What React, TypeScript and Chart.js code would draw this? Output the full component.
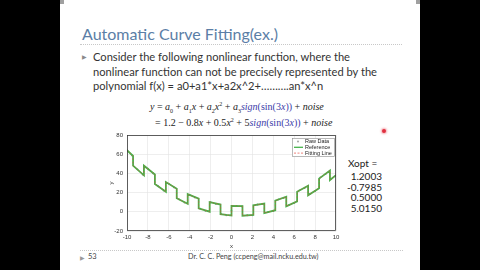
import React, { useEffect, useRef } from "react";
import { Chart, registerables } from "chart.js";
Chart.register(...registerables);

// ---- data ----
const refX = [-10, -9.42, -9.42, -8.38, -8.38, -7.33, -7.33, -6.28, -6.28, -5.24, -5.24, -4.19, -4.19, -3.14, -3.14, -2.09, -2.09, -1.05, -1.05, -0.5, 0, 0, 1.05, 1.05, 2.09, 2.09, 3.14, 3.14, 4.19, 4.19, 5.24, 5.24, 6.28, 6.28, 7.33, 7.33, 8.38, 8.38, 9.42, 9.42, 10];
const refY = [64.2, 58.15, 48.15, 38.0, 48.0, 38.93, 28.93, 20.97, 30.97, 24.1, 14.1, 8.32, 18.32, 13.65, 3.65, 0.07, 10.07, 7.59, -2.41, -3.28, -3.8, 6.2, 5.91, -4.09, -3.28, 6.72, 8.62, -1.38, 1.62, 11.62, 15.72, 5.72, 10.91, 20.91, 27.21, 17.21, 24.6, 34.6, 43.07, 33.07, 38.2];
const fitX = [-10, -9.42, -9.42, -8.38, -8.38, -7.33, -7.33, -6.28, -6.28, -5.24, -5.24, -4.19, -4.19, -3.14, -3.14, -2.09, -2.09, -1.05, -1.05, -0.5, 0, 0, 1.05, 1.05, 2.09, 2.09, 3.14, 3.14, 4.19, 4.19, 5.24, 5.24, 6.28, 6.28, 7.33, 7.33, 8.38, 8.38, 9.42, 9.42, 10];
const fitY = [64.2, 58.2, 48.1, 38.0, 48.0, 38.9, 28.9, 21.0, 31.0, 24.1, 14.1, 8.3, 18.3, 13.6, 3.6, 0.1, 10.1, 7.6, -2.4, -3.3, -3.8, 6.2, 5.9, -4.1, -3.3, 6.7, 8.6, -1.4, 1.6, 11.6, 15.7, 5.7, 10.9, 20.9, 27.2, 17.2, 24.6, 34.6, 43.1, 33.1, 38.2];
const rawX = [-10, -9.5, -9, -8.5, -8, -7.5, -7, -6.5, -6, -5.5, -5, -4.5, -4, -3.5, -3, -2.5, -2, -1.5, -1, -0.5, 0, 0.5, 1, 1.5, 2, 2.5, 3, 3.5, 4, 4.5, 5, 5.5, 6, 6.5, 7, 7.5, 8, 8.5, 9, 9.5, 10];
const rawY = [64.5, 58.6, 44.2, 38.8, 44.9, 40.0, 26.6, 22.2, 29.3, 25.4, 13.0, 9.6, 17.7, 14.8, 3.4, 1.0, 10.1, 8.2, -2.2, -3.6, 1.2, 6.2, 5.6, -3.6, -3.7, 7.6, 8.0, -0.2, 0.7, 13.0, 14.4, 7.2, 9.1, 22.4, 24.8, 18.6, 21.5, 35.8, 39.2, 34.0, 37.9];
const xTicks = [-10, -8, -6, -4, -2, 0, 2, 4, 6, 8, 10];
const yTicks = [-20, 0, 20, 40, 60, 80];
const seriesLabels = ["Raw Data", "Reference", "Fitting Line"];
const xoptLabel = "Xopt =";
const xoptValues = ["1.2003", "-0.7985", "0.5000", "5.0150"];

const SANS = "Lato, 'Open Sans', sans-serif";
const AX = "'Liberation Sans', Arial, sans-serif";

const legendPlugin = {
  id: "matlabFrameLegend",
  afterDraw(chart: any) {
    const { ctx, chartArea: a } = chart;
    ctx.save();
    // axes box
    ctx.strokeStyle = "#3a3a3a";
    ctx.lineWidth = 0.8;
    ctx.strokeRect(a.left + 0.5, a.top + 0.5, a.right - a.left - 1, a.bottom - a.top - 1);
    // legend
    const w = 43, h = 19;
    const x0 = a.right - w - 1, y0 = a.top + 3;
    ctx.fillStyle = "#ffffff";
    ctx.fillRect(x0, y0, w, h);
    ctx.strokeStyle = "#8a8a8a";
    ctx.lineWidth = 0.6;
    ctx.strokeRect(x0 + 0.5, y0 + 0.5, w - 1, h - 1);
    ctx.font = "5.5px " + AX;
    ctx.textBaseline = "middle";
    chart.data.datasets.forEach((ds: any, i: number) => {
      const yy = y0 + 3.5 + i * 5.8;
      if (i === 0) {
        ctx.fillStyle = "#9a9a9a";
        ctx.beginPath();
        ctx.arc(x0 + 6, yy, 0.9, 0, Math.PI * 2);
        ctx.fill();
      } else {
        ctx.strokeStyle = ds.borderColor;
        ctx.lineWidth = i === 1 ? 1.3 : 0.8;
        ctx.setLineDash(ds.borderDash || []);
        ctx.beginPath();
        ctx.moveTo(x0 + 2, yy);
        ctx.lineTo(x0 + 11, yy);
        ctx.stroke();
        ctx.setLineDash([]);
      }
      ctx.fillStyle = "#222";
      ctx.fillText(ds.label, x0 + 13, yy);
    });
    ctx.restore();
  },
};

function Plot() {
  const ref = useRef<HTMLCanvasElement>(null);
  useEffect(() => {
    const toPts = (xs: number[], ys: number[]) => xs.map((x, i) => ({ x, y: ys[i] }));
    const chart = new Chart(ref.current!, {
      type: "scatter",
      data: {
        datasets: [
          {
            label: seriesLabels[0],
            data: toPts(rawX, rawY),
            showLine: false,
            pointRadius: 0.9,
            pointBackgroundColor: "#8f8f8f",
            pointBorderWidth: 0,
            order: 3,
          },
          {
            label: seriesLabels[1],
            data: toPts(refX, refY),
            showLine: true,
            borderColor: "#45b34a",
            borderWidth: 1.8,
            pointRadius: 0,
            order: 2,
          },
          {
            label: seriesLabels[2],
            data: toPts(fitX, fitY),
            showLine: true,
            borderColor: "rgba(230,70,60,0.85)",
            borderWidth: 0.6,
            borderDash: [2, 1.5],
            pointRadius: 0,
            order: 1,
          },
        ],
      } as any,
      options: {
        responsive: false,
        animation: false,
        layout: { padding: { top: 9, right: 9, left: 0, bottom: 0 } },
        plugins: { legend: { display: false }, tooltip: { enabled: false } },
        scales: {
          x: {
            type: "linear",
            min: -10,
            max: 10,
            afterBuildTicks: (s: any) => {
              s.ticks = xTicks.map((v) => ({ value: v }));
            },
            afterFit: (s: any) => {
              s.height = 19;
            },
            grid: { color: "#e3e3e3", lineWidth: 0.6, drawTicks: false },
            border: { display: false },
            ticks: { font: { size: 6, family: AX }, color: "#333", padding: 3, maxRotation: 0, autoSkip: false },
            title: { display: true, text: "x", font: { size: 6, family: AX }, color: "#333", padding: { top: 0, bottom: 0 } },
          },
          y: {
            type: "linear",
            min: -20,
            max: 80,
            afterBuildTicks: (s: any) => {
              s.ticks = yTicks.map((v) => ({ value: v }));
            },
            afterFit: (s: any) => {
              s.width = 27;
            },
            grid: { color: "#e3e3e3", lineWidth: 0.6, drawTicks: false },
            border: { display: false },
            ticks: { font: { size: 6, family: AX }, color: "#333", padding: 4, autoSkip: false },
            title: { display: true, text: "y", font: { size: 6, family: AX }, color: "#333", padding: { top: 8, bottom: 0 } },
          },
        },
      } as any,
      plugins: [legendPlugin],
    });
    return () => chart.destroy();
  }, []);
  return <canvas ref={ref} width={245} height={124} style={{ position: "absolute", left: 100, top: 126, width: 245, height: 124 }} />;
}

const abs = (l: number, t: number, extra: any = {}) => ({ position: "absolute" as const, left: l, top: t, whiteSpace: "nowrap" as const, ...extra });

export default function App() {
  const eq: any = { fontFamily: "'Liberation Serif', 'Times New Roman', serif", fontSize: 10, color: "#222", lineHeight: "12px" };
  const blue = { color: "#3a3aa8" };
  return (
    <div style={{ position: "absolute", left: 0, top: 0, width: 480, height: 270, background: "#000", overflow: "hidden" }}>
      <div style={{ position: "absolute", left: 60, top: 0, width: 360, height: 270, background: "#fff" }} />
      <div style={{ position: "absolute", left: 60, top: 0, width: 4, height: 4, background: "#a0a0a0" }} />
      <div style={{ position: "absolute", left: 416, top: 0, width: 4, height: 4, background: "#a0a0a0" }} />
      <div style={abs(82, 23, { fontFamily: SANS, fontSize: 16, color: "#5b7ea6", lineHeight: "21px" })}>Automatic Curve Fitting(ex.)</div>
      <div style={{ position: "absolute", left: 80, top: 44, width: 322, borderTop: "1px dotted #c8c8c8" }} />
      <div style={abs(82, 52, { fontSize: 6, color: "#8a8a8a", fontFamily: SANS, lineHeight: "10px" })}>▶</div>
      <div style={abs(93, 50, { fontFamily: SANS, fontSize: 11.15, color: "#333", lineHeight: "14.5px" })}>
        Consider the following nonlinear function, where the
        <br />
        nonlinear function can not be precisely represented by the
        <br />
        polynomial f(x) = a0+a1*x+a2x^2+……….an*x^n
      </div>
      <div style={abs(150, 98, eq)}>
        <i>y</i> = <i>a</i><sub style={{ fontSize: 6 }}>0</sub> + <i>a</i><sub style={{ fontSize: 6 }}>1</sub><i>x</i> + <i>a</i><sub style={{ fontSize: 6 }}>2</sub><i>x</i><sup style={{ fontSize: 6 }}>2</sup> + <i>a</i><sub style={{ fontSize: 6 }}>3</sub><span style={blue}><i>sign</i>(sin(3<i>x</i>))</span> + <i>noise</i>
      </div>
      <div style={abs(155, 114, eq)}>
        = 1.2 − 0.8<i>x</i> + 0.5<i>x</i><sup style={{ fontSize: 6 }}>2</sup> + 5<span style={blue}><i>sign</i>(sin(3<i>x</i>))</span> + <i>noise</i>
      </div>
      <div style={{ position: "absolute", left: 382, top: 129, width: 4, height: 4, borderRadius: 2, background: "#e03040", boxShadow: "0 0 2px 1px rgba(240,120,130,0.6)" }} />
      <Plot />
      <div style={abs(348, 157, { fontFamily: SANS, fontSize: 10, color: "#222", lineHeight: "12px" })}>{xoptLabel}</div>
      {xoptValues.map((v, i) => (
        <div key={v} style={{ position: "absolute", right: 480 - 382, top: 170 + i * 10.7, fontFamily: SANS, fontSize: 10, color: "#222", lineHeight: "12px", whiteSpace: "nowrap" }}>
          {v}
        </div>
      ))}
      <div style={{ position: "absolute", left: 80, top: 250, width: 323, borderTop: "1px dotted #c8c8c8" }} />
      <div style={abs(80, 253, { fontSize: 6, color: "#9a9a9a", fontFamily: SANS, lineHeight: "10px" })}>▶</div>
      <div style={abs(88, 252, { fontSize: 7.5, color: "#444", fontFamily: SANS, lineHeight: "10px" })}>53</div>
      <div style={abs(188, 252, { fontSize: 7.2, color: "#444", fontFamily: SANS, lineHeight: "10px" })}>Dr. C. C. Peng (ccpeng@mail.ncku.edu.tw)</div>
    </div>
  );
}
